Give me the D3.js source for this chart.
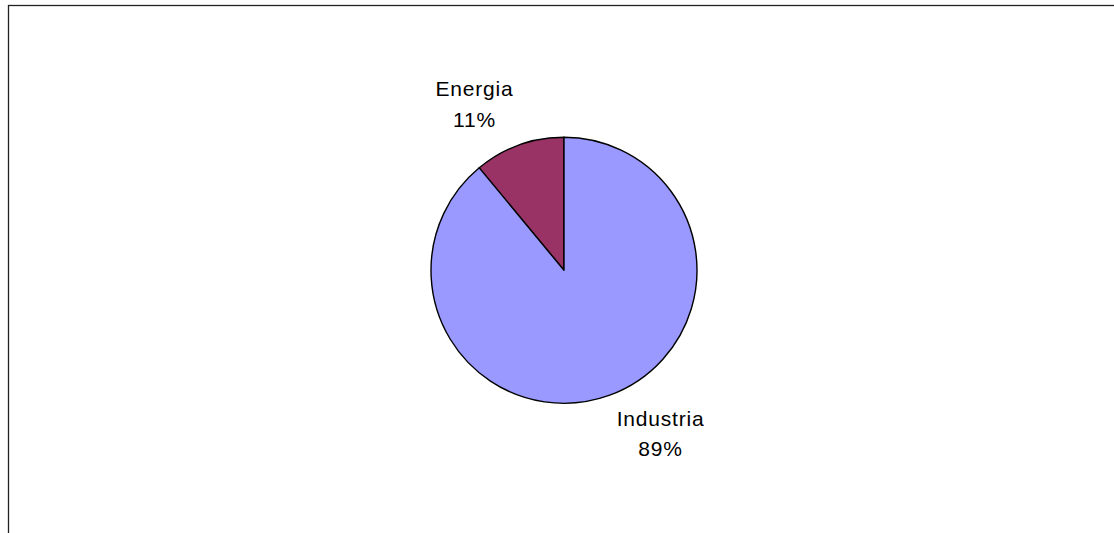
<!DOCTYPE html>
<html>
<head>
<meta charset="utf-8">
<script src="https://cdn.jsdelivr.net/npm/d3@7"></script>
<style>
  html, body { margin: 0; padding: 0; background: #fff; overflow: hidden; }
  svg { display: block; }
</style>
</head>
<body>
<svg id="chart" width="1114" height="533"></svg>
<script>
// chart data
const categories = ['Energia', 'Industria'];
const shares = [11, 89];
const sliceColors = ['#993366', '#9999FF'];

const svg = d3.select('#chart');
const width = 1114;
const height = 533;

// chart area frame (runs off the right and bottom edges)
svg.append('rect')
  .attr('x', 8.5).attr('y', 5.5)
  .attr('width', width + 20).attr('height', height + 20)
  .attr('fill', '#fff')
  .attr('stroke', '#222').attr('stroke-width', 1.3);

const cx = 564, cy = 270.3, r = 133;

const data = categories.map((c, i) => ({ name: c, value: shares[i], color: sliceColors[i] }));

// Energia goes counter-clockwise from 12 o'clock, Industria fills the rest
const total = d3.sum(shares);
const pie = d3.pie().value(d => d.value).sort(null)
  .startAngle(-2 * Math.PI * shares[0] / total)
  .endAngle(2 * Math.PI - 2 * Math.PI * shares[0] / total);

const arc = d3.arc().innerRadius(0).outerRadius(r);

const g = svg.append('g').attr('transform', `translate(${cx},${cy})`);

g.selectAll('path')
  .data(pie(data))
  .join('path')
  .attr('d', arc)
  .attr('fill', d => d.data.color)
  .attr('stroke', '#000')
  .attr('stroke-width', 1.4)
  .attr('stroke-linejoin', 'round');

// labels outside the slices
const labelPos = {
  Energia: [-89.5, -174],
  Industria: [96.5, 155.5]
};

const labels = g.selectAll('g.lbl')
  .data(pie(data))
  .join('g')
  .attr('class', 'lbl')
  .attr('transform', d => `translate(${labelPos[d.data.name]})`);

labels.append('text')
  .attr('text-anchor', 'middle')
  .attr('font-family', '"Liberation Sans", Arial, sans-serif')
  .attr('font-size', 21)
  .attr('letter-spacing', 0.8)
  .attr('fill', '#000')
  .selectAll('tspan')
  .data(d => [d.data.name, d.data.value + '%'])
  .join('tspan')
  .attr('x', 0)
  .attr('y', (d, i) => i * 30.5)
  .text(d => d);
</script>
</body>
</html>
